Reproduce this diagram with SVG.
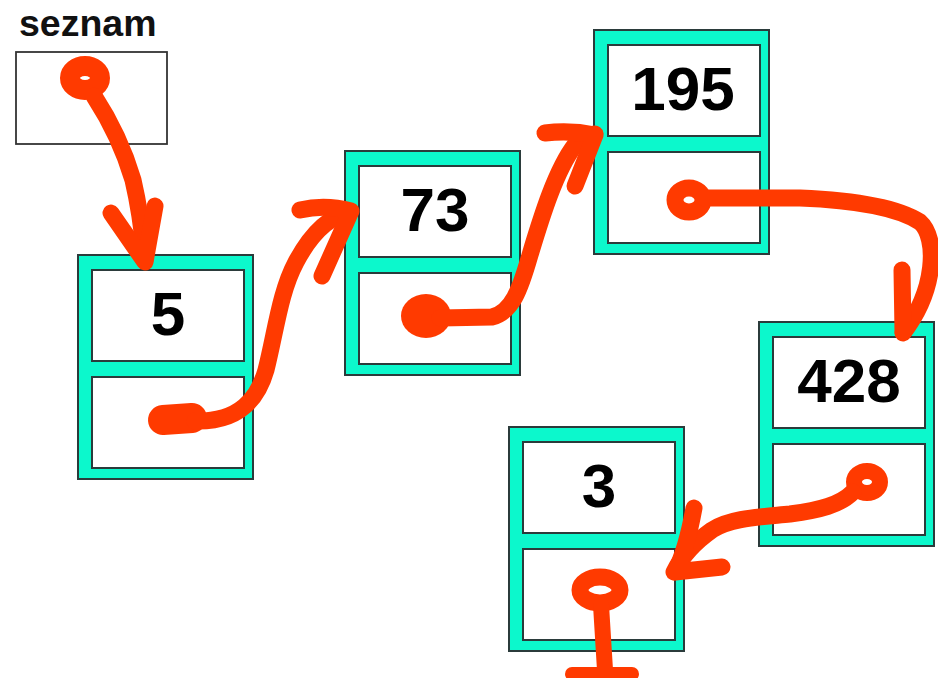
<svg xmlns="http://www.w3.org/2000/svg" width="938" height="678" viewBox="0 0 938 678">
<style>
.outer{fill:#0CF8CC;stroke:#2B3B3B;stroke-width:2}
.inner{fill:#FFFFFF;stroke:#2B3B3B;stroke-width:2}
.val{font-family:"Liberation Sans",Arial,sans-serif;font-weight:bold;font-size:62px;fill:#000;text-anchor:middle}
.lbl{font-family:"Liberation Sans",Arial,sans-serif;font-weight:bold;font-size:37.5px;fill:#111}
.ptr{fill:none;stroke:#FF3A00;stroke-linecap:round;stroke-linejoin:round}
</style>
<defs>
<g id="node">
<rect class="outer" x="0" y="0" width="175" height="224"/>
<rect class="inner" x="14" y="15" width="152" height="91"/>
<rect class="inner" x="14" y="122" width="152" height="91"/>
</g>
</defs>
<rect width="938" height="678" fill="#FFFFFF"/>
<g id="seznam">
<text class="lbl" x="19" y="36">seznam</text>
<rect x="16" y="52" width="151" height="92" fill="#FFFFFF" stroke="#333" stroke-width="1.8"/>
</g>
<g id="node-5" transform="translate(78,255)">
<use href="#node"/>
<text class="val" x="90" y="80">5</text>
</g>
<g id="node-73" transform="translate(345,151)">
<use href="#node"/>
<text class="val" x="90" y="80">73</text>
</g>
<g id="node-195" transform="translate(594,30)">
<use href="#node"/>
<text class="val" x="89" y="80">195</text>
</g>
<g id="node-428" transform="translate(759,322)">
<use href="#node"/>
<text class="val" x="90" y="80">428</text>
</g>
<g id="node-3" transform="translate(509,427)">
<use href="#node"/>
<text class="val" x="90" y="80">3</text>
</g>
<g id="connectors">
<!-- seznam -> 5 -->
<ellipse class="ptr" cx="85" cy="78" rx="15" ry="12" stroke-width="20"/>
<path class="ptr" stroke-width="17" d="M94,96 C107,116 123,146 133,180 C140,210 143,235 145,260"/>
<path class="ptr" stroke-width="17" d="M111,213 L145,262 L155,206"/>
<!-- 5 -> 73 -->
<path class="ptr" stroke-width="30" d="M163,420 L192,418"/>
<path class="ptr" stroke-width="17" d="M195,421 C240,422 258,398 266,370 C276,330 280,292 296,262 C312,232 330,216 350,212"/>
<path class="ptr" stroke-width="17" d="M300,210 Q325,204 351,211 L322,276"/>
<!-- 73 -> 195 -->
<ellipse cx="426" cy="316" rx="25" ry="22" fill="#FF3A00"/>
<path class="ptr" stroke-width="17" d="M440,318 L492,317 C512,312 520,290 530,255 C542,215 556,170 575,145 C582,138 588,135 595,134"/>
<path class="ptr" stroke-width="17" d="M545,133 Q570,130 595,135 L575,186"/>
<!-- 195 -> 428 -->
<ellipse class="ptr" cx="689" cy="200" rx="14" ry="12" stroke-width="17"/>
<path class="ptr" stroke-width="17" d="M704,198 L800,198 C850,200 895,206 920,222 C938,238 936,290 903,333"/>
<path class="ptr" stroke-width="17" d="M902,270 L903,332"/>
<!-- 428 -> 3 -->
<ellipse class="ptr" cx="867" cy="482" rx="13" ry="11" stroke-width="16"/>
<path class="ptr" stroke-width="17" d="M853,492 C840,505 820,510 790,514 C760,517 730,518 712,530 C695,542 682,556 674,572"/>
<path class="ptr" stroke-width="17" d="M694,508 C690,530 684,555 675,572 L722,567"/>
<!-- 3 -> null -->
<ellipse class="ptr" cx="600" cy="590" rx="20" ry="13" stroke-width="17"/>
<path class="ptr" stroke-width="16" d="M601,605 L605,670"/>
<path class="ptr" stroke-width="14" d="M572,674 L632,674"/>
</g>
</svg>
